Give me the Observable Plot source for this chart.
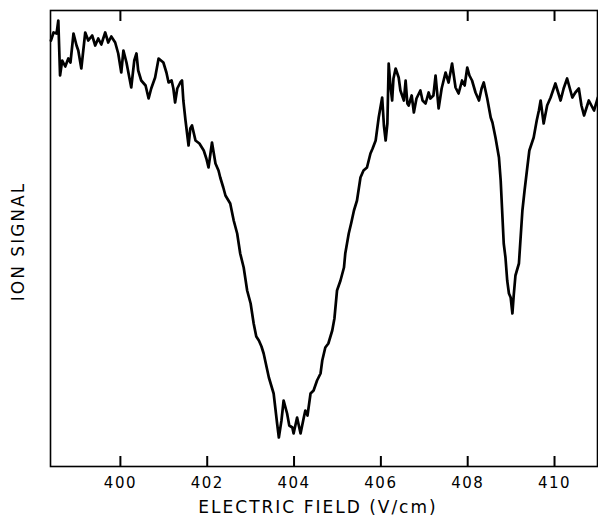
<!DOCTYPE html>
<html><head><meta charset="utf-8">
<script src="https://cdn.jsdelivr.net/npm/d3@7"></script>
<script src="https://cdn.jsdelivr.net/npm/@observablehq/plot@0.6"></script>
<style>
body{margin:0;background:#fff}
#chart svg text{letter-spacing:2px}
#chart svg g[aria-label="x-axis tick label"] text{letter-spacing:1.5px}
</style>
</head><body><div id="chart"></div>
<script>
// Electric field (V/cm) and ion signal (arbitrary units)
const field = [398.40,398.46,398.53,398.57,398.61,398.66,398.73,398.80,398.85,398.92,398.99,399.03,399.10,399.19,399.26,399.35,399.42,399.49,399.56,399.65,399.72,399.79,399.88,399.95,400.02,400.07,400.14,400.25,400.32,400.37,400.41,400.48,400.58,400.65,400.71,400.80,400.88,400.99,401.06,401.11,401.18,401.22,401.26,401.31,401.38,401.42,401.45,401.50,401.57,401.61,401.65,401.73,401.82,401.92,401.98,402.03,402.11,402.19,402.26,402.30,402.37,402.42,402.53,402.61,402.69,402.76,402.84,402.92,403.00,403.07,403.13,403.19,403.25,403.30,403.42,403.53,403.61,403.65,403.71,403.76,403.84,403.89,403.96,403.99,404.07,404.15,404.22,404.26,404.31,404.38,404.45,404.53,404.61,404.65,404.72,404.79,404.88,404.93,404.99,405.07,405.15,405.18,405.26,405.32,405.38,405.45,405.53,405.60,405.68,405.76,405.81,405.88,405.95,406.03,406.07,406.11,406.15,406.18,406.22,406.26,406.29,406.34,406.41,406.45,406.53,406.57,406.61,406.64,406.71,406.76,406.82,406.91,406.96,407.03,407.10,407.14,407.21,407.26,407.33,407.40,407.49,407.56,407.64,407.72,407.79,407.87,407.93,407.99,408.04,408.10,408.18,408.26,408.32,408.37,408.45,408.53,408.57,408.64,408.72,408.76,408.79,408.83,408.87,408.91,408.95,408.99,409.03,409.06,409.10,409.18,409.26,409.31,409.37,409.42,409.52,409.59,409.64,409.68,409.75,409.83,409.91,410.02,410.14,410.21,410.29,410.41,410.48,410.56,410.62,410.68,410.79,410.91,411.00];
const signal = [427,435,434,447,392,407,401,409,405,434,422,417,399,435,427,432,422,429,423,435,425,431,425,414,395,417,405,380,407,414,397,387,382,369,379,390,409,405,395,385,387,379,365,379,385,387,367,347,322,339,342,327,324,317,309,300,325,304,297,290,280,272,264,247,234,214,200,177,164,144,131,127,121,114,90,74,44,30,47,67,54,42,40,34,50,34,49,57,52,74,77,87,94,107,120,124,137,149,177,187,200,214,234,245,257,267,290,297,300,314,319,327,350,370,342,327,344,404,382,367,389,399,390,377,367,387,364,362,372,355,369,377,367,364,375,369,372,392,359,379,395,385,404,380,374,387,382,400,392,387,375,367,379,385,369,350,345,330,310,287,260,224,210,187,174,170,154,172,192,204,257,277,299,317,330,347,357,367,344,362,370,384,367,379,389,370,375,379,362,352,367,357,370];
const xTicks = [400, 402, 404, 406, 408, 410];
const topTicks = [400, 408, 410];
const xLabel = "ELECTRIC FIELD (V/cm)";
const yLabel = "ION SIGNAL";

const data = field.map((f, i) => ({field: f, signal: signal[i]}));

const chart = Plot.plot({
  width: 598, height: 516,
  marginLeft: 50, marginRight: 1, marginTop: 10, marginBottom: 50,
  x: {domain: [398.39, 410.99]},
  y: {domain: [1, 457], axis: null},
  style: {fontFamily: "DejaVu Sans", background: "#fff", color: "#000"},
  marks: [
    Plot.frame({stroke: "#000", strokeWidth: 1.6}),
    Plot.axisX(xTicks, {anchor: "bottom", tickSize: 0, tickPadding: 11, fontSize: 15, label: null, tickFormat: d => String(d)}),
    Plot.ruleX(xTicks, {insetTop: 446, stroke: "#000", strokeWidth: 2}),
    Plot.ruleX(topTicks, {insetBottom: 445, stroke: "#000", strokeWidth: 2}),
    Plot.line(data, {x: "field", y: "signal", stroke: "#000", strokeWidth: 2.7, strokeLinejoin: "round"}),
    Plot.text([xLabel], {frameAnchor: "bottom", dx: -6, dy: 46, lineAnchor: "bottom", fontSize: 17}),
    Plot.text([yLabel], {frameAnchor: "left", textAnchor: "middle", rotate: -90, dx: -32, dy: 3, fontSize: 17})
  ]
});
document.getElementById("chart").appendChild(chart);
</script>
</body></html>
